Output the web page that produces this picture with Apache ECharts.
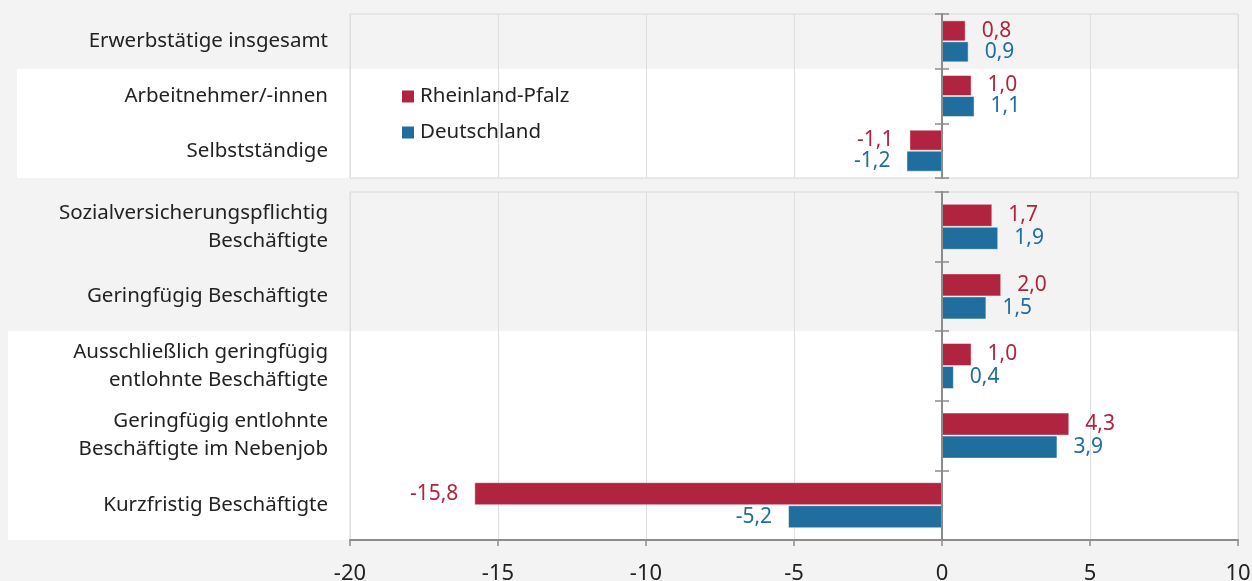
<!DOCTYPE html>
<html><head><meta charset="utf-8">
<script src="https://cdn.jsdelivr.net/npm/echarts@6/dist/echarts.min.js"></script>
<style>html,body{margin:0;padding:0;background:#f2f3f2}#c{width:1252px;height:581px}</style>
</head><body><div id="c"></div>
<script>
const categoriesTop = ['Erwerbstätige insgesamt', 'Arbeitnehmer/-innen', 'Selbstständige'];
const categoriesBottom = ['Sozialversicherungspflichtig\nBeschäftigte', 'Geringfügig Beschäftigte', 'Ausschließlich geringfügig\nentlohnte Beschäftigte', 'Geringfügig entlohnte\nBeschäftigte im Nebenjob', 'Kurzfristig Beschäftigte'];
const rlpTop = [0.8, 1.0, -1.1];
const deTop = [0.9, 1.1, -1.2];
const rlpBottom = [1.7, 2.0, 1.0, 4.3, -15.8];
const deBottom = [1.9, 1.5, 0.4, 3.9, -5.2];
const seriesNames = ['Rheinland-Pfalz', 'Deutschland'];
const xMin = -20, xMax = 10, xInterval = 5;

const RED = '#b0243f', BLUE = '#1f6e9e', TXT = '#222222', FONT = 'Noto Sans';
const G0 = {left: 350, right: 14, top: 14, height: 164};
const G1 = {left: 350, right: 14, top: 192, height: 348};
const W = 1252;

const fmt = p => p.value.toFixed(1).replace('.', ',');
function items(arr) {
  return arr.map(v => ({value: v, label: {position: v < 0 ? 'left' : 'right'}}));
}
function barSeries(name, data, color, gi, bw) {
  return {
    type: 'bar', name: name, xAxisIndex: gi, yAxisIndex: gi * 3,
    data: items(data), barWidth: bw, barGap: '0%',
    itemStyle: {color: color, borderColor: 'rgba(255,255,255,0.45)', borderWidth: 1},
    label: {show: true, formatter: fmt, distance: 16, color: color, fontSize: 21, fontFamily: FONT},
    z: 3
  };
}
function labelAxis(gi, cats) {
  return {type: 'category', gridIndex: gi, data: cats, inverse: true, position: 'left',
    axisLine: {show: false, onZero: false}, axisTick: {show: false}, splitLine: {show: false},
    axisLabel: {margin: 22, fontSize: 20.5, lineHeight: 28, color: TXT, fontFamily: FONT}};
}
function zeroAxis(gi, cats, pos) {
  return {type: 'category', gridIndex: gi, data: cats, inverse: true, position: pos, z: 6,
    axisLine: {show: true, onZero: true, onZeroAxisIndex: gi, lineStyle: {color: '#8c8c8c', width: 2}},
    axisTick: {show: true, length: 7, lineStyle: {color: '#8c8c8c', width: 1.5}},
    axisLabel: {show: false}, splitLine: {show: false}};
}
const splitLine = {show: true, lineStyle: {color: '#dedede', width: 1}};
const gridBase = {show: true, borderColor: '#d8d8d8', borderWidth: 1, backgroundColor: 'transparent',
  containLabel: false, outerBoundsMode: 'none'};

const chart = echarts.init(document.getElementById('c'));
chart.setOption({
  backgroundColor: '#f2f3f2',
  animation: false,
  textStyle: {fontFamily: FONT},
  grid: [
    Object.assign({}, gridBase, G0),
    Object.assign({}, gridBase, G1)
  ],
  legend: {
    data: seriesNames, orient: 'vertical', left: 397, top: 81, itemGap: 15,
    icon: 'rect', itemWidth: 12, itemHeight: 12,
    itemStyle: {borderWidth: 0},
    textStyle: {fontSize: 20.5, color: TXT, fontFamily: FONT, padding: [0, 0, 0, 1]}
  },
  xAxis: [
    {type: 'value', gridIndex: 0, min: xMin, max: xMax, interval: xInterval,
      axisLine: {show: false}, axisTick: {show: false}, axisLabel: {show: false}, splitLine: splitLine},
    {type: 'value', gridIndex: 1, min: xMin, max: xMax, interval: xInterval,
      axisLine: {show: true, onZero: false, lineStyle: {color: '#8c8c8c', width: 2}},
      axisTick: {show: true, length: 6, lineStyle: {color: '#8c8c8c', width: 1.5}},
      axisLabel: {fontSize: 22, color: TXT, margin: 23, fontFamily: FONT},
      splitLine: splitLine}
  ],
  yAxis: [
    labelAxis(0, categoriesTop), zeroAxis(0, categoriesTop, 'left'), zeroAxis(0, categoriesTop, 'right'),
    labelAxis(1, categoriesBottom), zeroAxis(1, categoriesBottom, 'left'), zeroAxis(1, categoriesBottom, 'right')
  ],
  series: [
    barSeries(seriesNames[0], rlpTop, RED, 0, 21),
    barSeries(seriesNames[1], deTop, BLUE, 0, 21),
    barSeries(seriesNames[0], rlpBottom, RED, 1, 23),
    barSeries(seriesNames[1], deBottom, BLUE, 1, 23)
  ]
});

// white background bands (layout decoration)
const rowH0 = G0.height / categoriesTop.length;
const rowH1 = G1.height / categoriesBottom.length;
const right = W - G0.right;
chart.setOption({
  graphic: [
    {type: 'rect', z: -10, silent: true,
      shape: {x: 17, y: G0.top + rowH0, width: right - 17, height: rowH0 * 2},
      style: {fill: '#ffffff'}},
    {type: 'rect', z: -10, silent: true,
      shape: {x: 8, y: G1.top + rowH1 * 2, width: right - 8, height: rowH1 * 3},
      style: {fill: '#ffffff'}}
  ]
});
</script></body></html>
